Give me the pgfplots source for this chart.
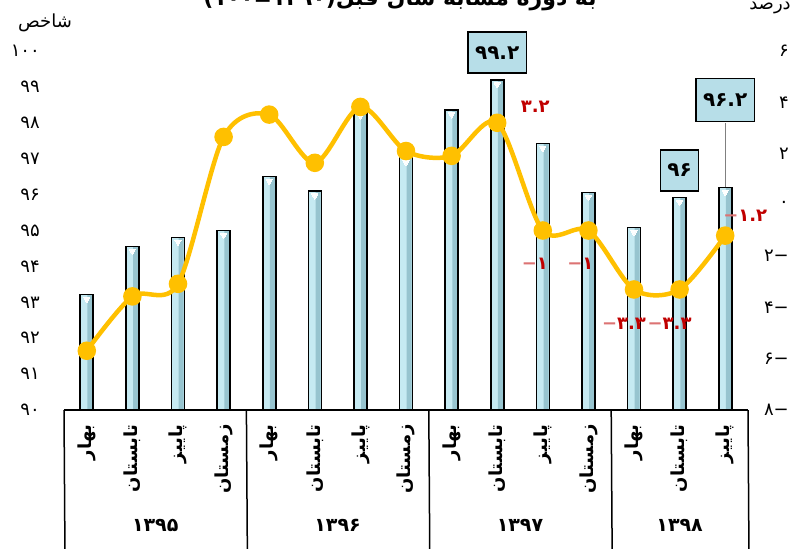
\documentclass[border=0pt]{standalone}
\usepackage{pgfplots}
\pgfplotsset{compat=1.18}
\usepackage{fontspec}
\newfontfamily\arabicfont[Script=Arabic]{DejaVu Sans}
\TeXXeTstate=1

\definecolor{barM}{HTML}{C6EAF2}
\definecolor{barR}{HTML}{97C4CF}
\definecolor{boxblue}{HTML}{B7DEE8}
\definecolor{lineyel}{HTML}{FFC000}
\definecolor{lblred}{HTML}{C00000}

\newcommand{\fs}[1]{\fontsize{#1}{#1}\selectfont}
\newcommand{\mn}{{\color{lblred!55}−}}

\pgfplotstableread{
x idx
0 93.22
1 94.56
2 94.81
3 95.00
4 96.50
5 96.10
6 98.33
7 97.03
8 98.36
9 99.20
10 97.42
11 96.06
12 95.08
13 95.92
14 96.20
}\indexdata

\pgfplotstableread{
x pct
0 -5.69
1 -3.57
2 -3.08
3 2.65
4 3.52
5 1.64
6 3.82
7 2.10
8 1.91
9 3.2
10 -1.0
11 -1.0
12 -3.3
13 -3.3
14 -1.2
}\pctdata

\begin{document}
\begin{tikzpicture}
\useasboundingbox (0pt,0pt) rectangle (807pt,549pt);

% title, cut by the top edge as in the source
\node[anchor=base, font=\arabicfont\bfseries\fs{22}] at (400pt,543pt)
  {(۱۳۹۰=۱۰۰)\beginR به دوره مشابه سال قبل\endR};
\node[font=\arabicfont\fs{18}] at (45pt,526pt) {\beginR شاخص\endR};
\node[font=\arabicfont\fs{18}] at (770pt,541pt) {\beginR درصد\endR};

% index bars (left scale)
\begin{axis}[
  at={(64pt,139pt)}, anchor=south west,
  scale only axis, width=684pt, height=359pt,
  xmin=-0.5, xmax=14.5, ymin=90, ymax=100,
  axis line style={draw=none}, major tick length=0pt,
  xtick={0,...,14},
  xticklabels={{\beginR بهار\endR},{\beginR تابستان\endR},{\beginR پاییز\endR},{\beginR زمستان\endR},
               {\beginR بهار\endR},{\beginR تابستان\endR},{\beginR پاییز\endR},{\beginR زمستان\endR},
               {\beginR بهار\endR},{\beginR تابستان\endR},{\beginR پاییز\endR},{\beginR زمستان\endR},
               {\beginR بهار\endR},{\beginR تابستان\endR},{\beginR پاییز\endR}},
  xticklabel style={rotate=90, anchor=east, inner sep=0pt, font=\arabicfont\bfseries\fs{18}},
  xticklabel shift=14pt,
  ytick={90,...,100},
  yticklabels={۹۰,۹۱,۹۲,۹۳,۹۴,۹۵,۹۶,۹۷,۹۸,۹۹,۱۰۰},
  yticklabel style={anchor=east, inner sep=0pt, xshift=-24pt, font=\arabicfont\fs{18}},
  clip=false,
]
% bar body, darker right side, then the outline
\addplot[ybar, bar shift=0pt, bar width=13pt, fill=barM, draw=none] table[x=x, y=idx] {\indexdata};
\addplot[ybar, bar shift=3.2pt, bar width=5pt, fill=barR, draw=none] table[x=x, y=idx] {\indexdata};
\addplot[ybar, bar shift=0pt, bar width=13pt, fill=none, draw=black, line width=1.6pt] table[x=x, y=idx] {\indexdata};
\addplot[only marks, mark=triangle*, mark size=3.6pt,
  mark options={yshift=-4.5pt, rotate=180, fill=white, draw=white, line width=0pt}]
  table[x=x, y=idx] {\indexdata};

% category box under the plot
\draw[line width=1.5pt] (axis cs:-0.5,90) -- (axis cs:14.5,90);
\draw[line width=1.5pt] (axis cs:-0.5,90) -- ++(0,-145pt);
\draw[line width=1.5pt] (axis cs:3.5,90) -- ++(0,-145pt);
\draw[line width=1.5pt] (axis cs:7.5,90) -- ++(0,-145pt);
\draw[line width=1.5pt] (axis cs:11.5,90) -- ++(0,-145pt);
\draw[line width=1.5pt] (axis cs:14.5,90) -- ++(0,-145pt);
\node[font=\arabicfont\bfseries\fs{19}] at (axis cs:1.5,90) [yshift=-115pt] {۱۳۹۵};
\node[font=\arabicfont\bfseries\fs{19}] at (axis cs:5.5,90) [yshift=-115pt] {۱۳۹۶};
\node[font=\arabicfont\bfseries\fs{19}] at (axis cs:9.5,90) [yshift=-115pt] {۱۳۹۷};
\node[font=\arabicfont\bfseries\fs{19}] at (axis cs:13,90) [yshift=-115pt] {۱۳۹۸};

% boxed values
\addplot[gray, line width=1.2pt, mark=none] coordinates {(14,96.2) (14,98.0)};
\addplot[only marks, mark=none, nodes near coords, point meta=explicit symbolic,
  every node near coord/.append style={anchor=south, yshift=6pt, fill=boxblue, draw=black,
    line width=1.3pt, minimum height=41pt, inner xsep=7pt, text=black,
    font=\arabicfont\bfseries\fs{20}}] coordinates {
  (9,99.2) [۹۹.۲]
  (13,95.92) [۹۶]
};
\addplot[only marks, mark=none, nodes near coords, point meta=explicit symbolic,
  every node near coord/.append style={anchor=south, yshift=65pt, fill=boxblue, draw=black,
    line width=1.3pt, minimum height=43pt, inner xsep=7pt, text=black,
    font=\arabicfont\bfseries\fs{20}}] coordinates {
  (14,96.2) [۹۶.۲]
};
\end{axis}

% percent change (right scale)
\begin{axis}[
  at={(64pt,139pt)}, anchor=south west,
  scale only axis, width=684pt, height=359pt,
  xmin=-0.5, xmax=14.5, ymin=-8, ymax=6,
  axis line style={draw=none}, major tick length=0pt,
  xtick=\empty,
  ytick={-8,-6,...,6},
  yticklabels={−۸,−۶,−۴,−۲,۰,۲,۴,۶},
  yticklabel pos=right,
  yticklabel style={anchor=east, inner sep=0pt, xshift=41pt, font=\arabicfont\fs{18}},
  clip=false,
]
\addplot[lineyel, line width=4.5pt, smooth, mark=*, mark size=7pt,
  mark options={fill=lineyel, draw=none}] table[x=x, y=pct] {\pctdata};
\pgfplotsset{lbl/.style={only marks, mark=none, nodes near coords, point meta=explicit symbolic,
  every node near coord/.append style={anchor=center, text=lblred,
    font=\arabicfont\bfseries\fs{18}, #1}}}
\addplot[lbl={xshift=38pt, yshift=16pt}] coordinates {(9,3.2) [۳.۲]};
\addplot[lbl={xshift=-8pt, yshift=-33pt}] coordinates {(10,-1.0) [\mn۱] (11,-1.0) [\mn۱]};
\addplot[lbl={xshift=-10pt, yshift=-34pt}] coordinates {(12,-3.3) [\mn۳.۳] (13,-3.3) [\mn۳.۳]};
\addplot[lbl={xshift=20pt, yshift=20pt}] coordinates {(14,-1.2) [\mn۱.۲]};
\end{axis}
\end{tikzpicture}
\end{document}
